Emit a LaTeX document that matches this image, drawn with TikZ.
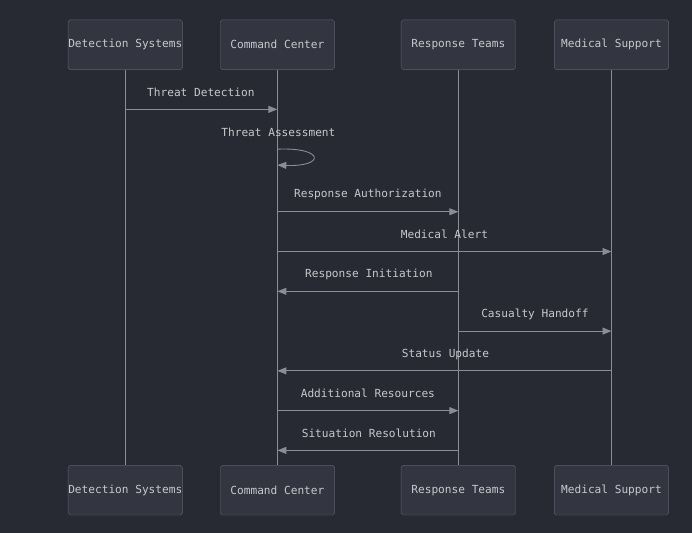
\documentclass[tikz,border=0pt]{standalone}
\usepackage{fontspec}
\setmonofont{DejaVu Sans Mono}
\usetikzlibrary{arrows.meta}
\definecolor{bg}{HTML}{282A33}
\definecolor{boxf}{HTML}{333641}
\definecolor{boxd}{HTML}{5C606C}
\definecolor{txt}{HTML}{C8C9CC}
\definecolor{ln}{HTML}{8A8D96}
\begin{document}
\begin{tikzpicture}[x=1pt,y=-1pt,
  actor/.style={draw=boxd,fill=boxf,rounded corners=2pt,minimum width=115pt,minimum height=50pt,inner sep=0pt,text=txt,font=\ttfamily\fontsize{11.2}{13}\selectfont},
  life/.style={draw=ln,line width=1pt},
  msg/.style={draw=ln,line width=0.9pt,-{Triangle[length=9pt,width=7pt]}},
  lbl/.style={text=txt,font=\ttfamily\fontsize{11.2}{13}\selectfont}]
\fill[bg] (-2,-2) rectangle (694,534);
\useasboundingbox (0,0) rectangle (692,532);
\foreach \n/\x/\t in {d/124/Detection Systems,c/277/Command Center,r/459/Response Teams,m/613/Medical Support}{
  \draw[life] (\x,68) -- (\x,466);
  \node[actor] (\n t) at (\x,43) {\t};
  \node[actor] (\n b) at (\x,491) {\t};
}
\foreach \n/\x in {d/124,c/277,r/459,m/613}{
  \foreach \y in {108,148,164,211,251,291,331,371,411,451}{\coordinate (\n\y) at (\x,\y);}
}
\draw[msg] (d108) -- (c108);
\node[lbl] at (200,91) {Threat Detection};
\node[lbl] at (278,131) {Threat Assessment};
\draw[msg] (c148) .. controls (325,146) and (325,166) .. (c164);
\draw[msg] (c211) -- (r211);
\node[lbl] at (368,194) {Response Authorization};
\draw[msg] (c251) -- (m251);
\node[lbl] at (445,234) {Medical Alert};
\draw[msg] (r291) -- (c291);
\node[lbl] at (369,274) {Response Initiation};
\draw[msg] (r331) -- (m331);
\node[lbl] at (536,314) {Casualty Handoff};
\draw[msg] (m371) -- (c371);
\node[lbl] at (446,354) {Status Update};
\draw[msg] (c411) -- (r411);
\node[lbl] at (368,394) {Additional Resources};
\draw[msg] (r451) -- (c451);
\node[lbl] at (369,434) {Situation Resolution};
\end{tikzpicture}
\end{document}
